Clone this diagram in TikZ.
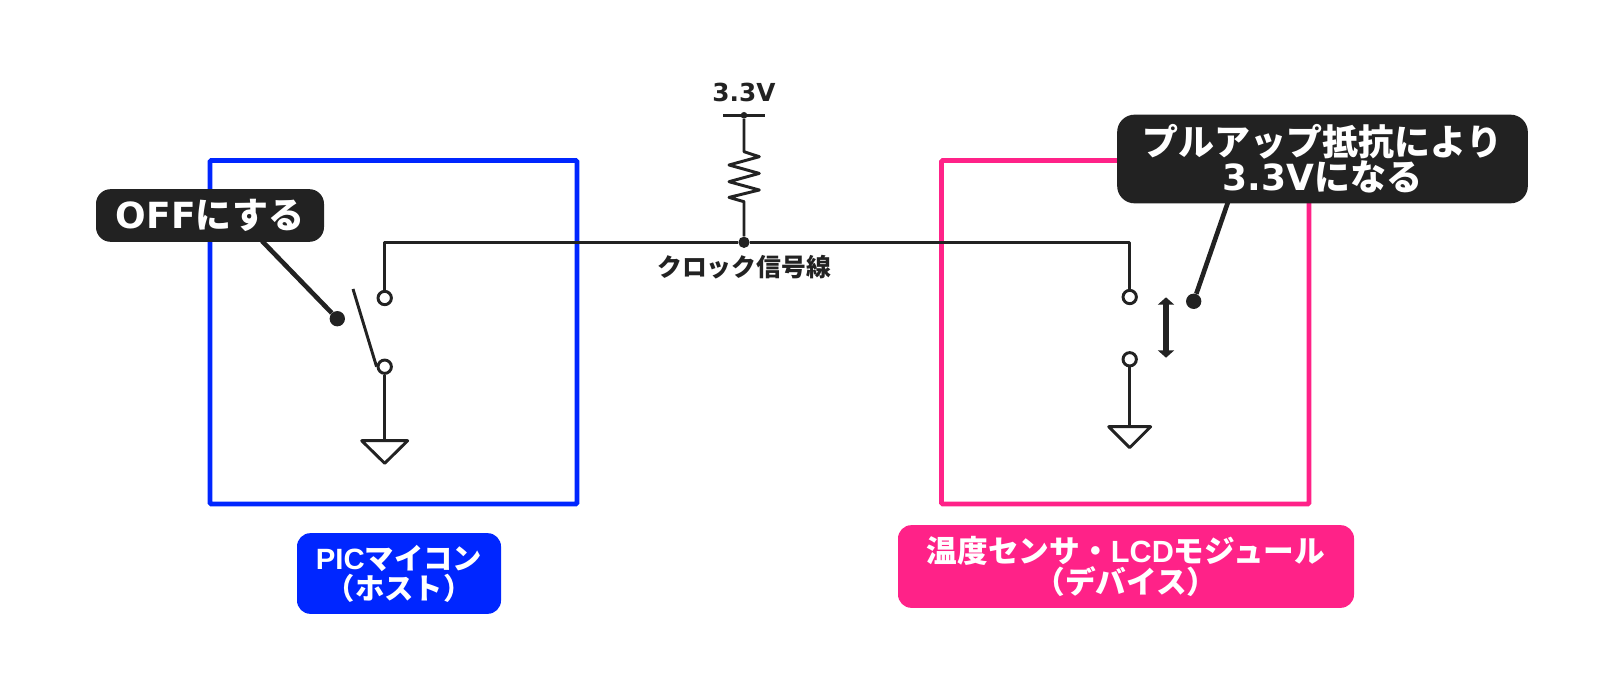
\documentclass[tikz,border=0pt]{standalone}
\usepackage{fontspec}
\setmainfont{Noto Sans CJK JP}
\newfontfamily\latinfont{Liberation Sans}
\newfontfamily\widefont{DejaVu Sans}
\usetikzlibrary{arrows.meta}
\definecolor{hostblue}{HTML}{0026FF}
\definecolor{devpink}{HTML}{FF2288}
\definecolor{inkdark}{HTML}{222222}
\tikzset{
	wire/.style={draw=inkdark,line width=2.2pt,line join=round},
	leader/.style={draw=inkdark,line width=3.5pt},
	term/.style={circle,draw=inkdark,fill=white,line width=2.2pt,minimum size=10pt,inner sep=0pt},
	dot/.style={circle,fill=inkdark,minimum size=11.5pt,inner sep=0pt},
	callout/.style={fill=inkdark,text=white,rounded corners=11pt,align=center,font=\bfseries\fontsize{27}{26.5}\selectfont,inner sep=0pt},
	tag/.style={text=white,rounded corners=10pt,align=center,font=\bfseries,inner sep=0pt}
}
\begin{document}
\begin{tikzpicture}[x=0.75pt,y=-0.75pt]
	\useasboundingbox (0,0) rectangle (1624,696);
	
	\draw[hostblue,line width=3.6pt,rounded corners=1pt] (210,160.5) rectangle (577,504);
	\draw[devpink,line width=3.6pt,rounded corners=1pt] (941.5,160.5) rectangle (1309,504);
	
	\node[tag,fill=hostblue,minimum width=153pt,minimum height=60.5pt,font=\bfseries\fontsize{22}{22.5}\selectfont](hostTag) at (399,573.5){{\latinfont PIC}マイコン\\（ホスト）};
	\node[tag,fill=devpink,minimum width=342pt,minimum height=62pt,font=\bfseries\fontsize{23}{23}\selectfont](devTag) at (1126,566.5){温度センサ・{\latinfont LCD}モジュール\\（デバイス）};
	
	\node[term](swA) at (384.7,298){};
	\node[term](swB) at (384.7,366.7){};
	\node[term](devA) at (1129.7,297){};
	\node[term](devB) at (1129.7,359.3){};
	\node[circle,fill=inkdark,minimum size=8.5pt,inner sep=0pt](junc) at (744,242.3){};
	\node[circle,fill=inkdark,minimum size=5pt,inner sep=0pt](rail) at (744,115.3){};
	\node[text=inkdark,font=\widefont\bfseries\fontsize{18.6}{20}\selectfont,inner sep=0pt](vccLabel) at (744,92.7){3.3V};
	\node[text=inkdark,font=\bfseries\fontsize{18.6}{20}\selectfont,inner sep=0pt](clkLabel) at (744,266.7){クロック信号線};
	
	\coordinate (armTop) at (353,289);
	\coordinate (gndA) at (384.7,440.7);
	\coordinate (gndB) at (1129.7,426.7);
	\coordinate (railL) at (723,115.3);
	\coordinate (railR) at (765,115.3);
	\coordinate (resTop) at (744,151.7);
	\coordinate (resBot) at (744,201.7);
	\coordinate (moveUp) at (1166,297.3);
	\coordinate (moveDn) at (1166,357.7);
	
	\draw[wire] (swA.north) |- (junc) -| (devA.north);
	\draw[wire] (armTop) -- (swB.west);
	\draw[wire] (swB.south) -- (gndA);
	\draw[wire] (devB.south) -- (gndB);
	\draw[wire] (gndA) -- ++(-23,0) -- ++(23,22.6) -- ++(23,-22.6) -- cycle;
	\draw[wire] (gndB) -- ++(-21,0) -- ++(21,21) -- ++(21,-21) -- cycle;
	\draw[wire] (railL) -- (railR);
	\draw[wire] (rail) -- (resTop) -- ++(15.3,5) -- ++(-30.3,8.3) -- ++(30.3,8.4) -- ++(-30.3,8.3)
		-- ++(30.3,8.3) -- ++(-30.3,7.4) -- (resBot) -- (junc);
	\draw[{Triangle[width=12pt,length=5.5pt]}-{Triangle[width=12pt,length=5.5pt]},draw=inkdark,fill=inkdark,line width=4pt] (moveUp) -- (moveDn);
	
	\node[callout,minimum width=171pt,minimum height=39.5pt](offLabel) at (210,215.5){{\widefont OFF}にする};
	\node[callout,minimum width=308pt,minimum height=66.5pt,rounded corners=13pt](pullLabel) at (1322.5,159){プルアップ抵抗により\\{\widefont 3.3V}になる};
	\node[dot](offDot) at (337.3,318.7){};
	\node[dot](pullDot) at (1193.7,301.3){};
	\coordinate (offTail) at (262,241);
	\coordinate (pullTail) at (1228,202);
	\draw[leader] (offTail) -- (offDot);
	\draw[leader] (pullTail) -- (pullDot);
\end{tikzpicture}
\end{document}
